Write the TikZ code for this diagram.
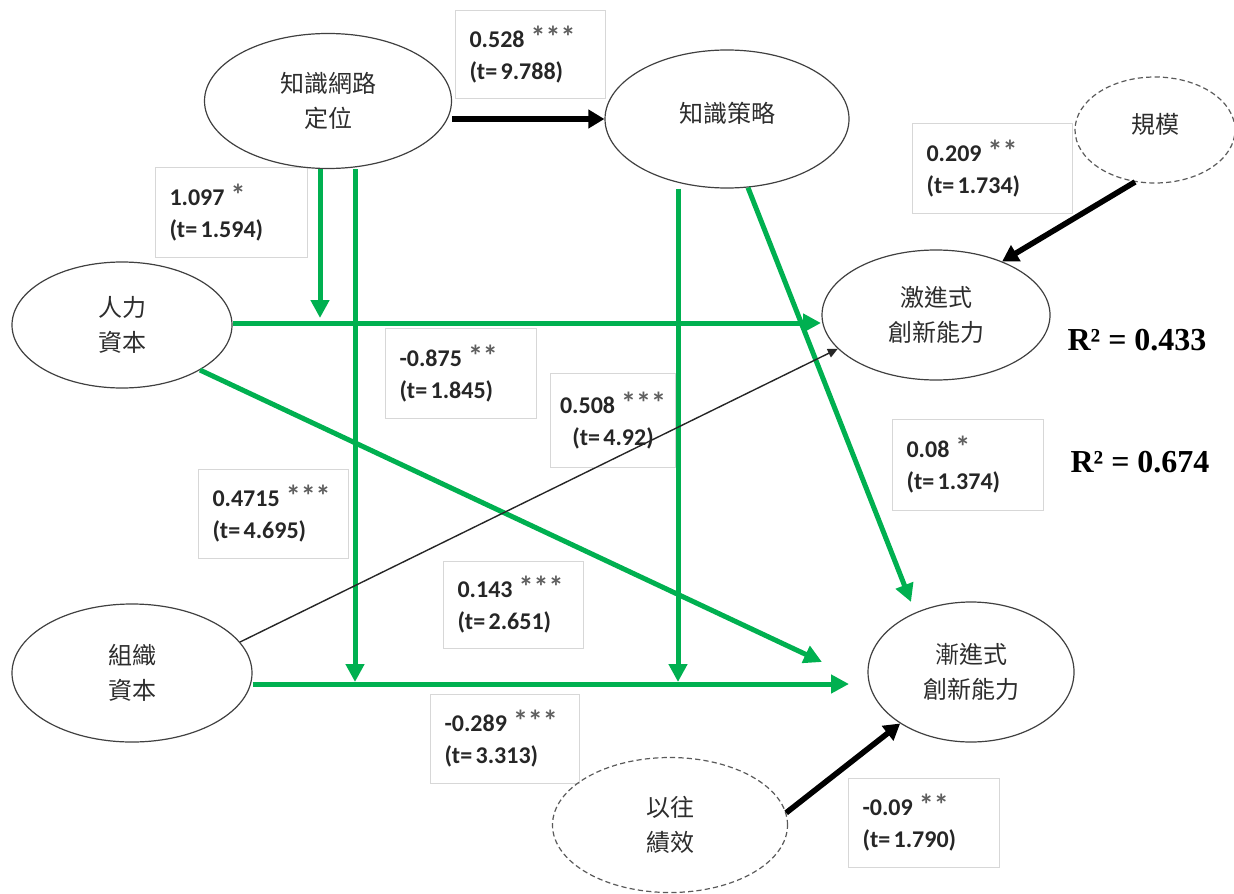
\documentclass[tikz,border=0pt]{standalone}
\usepackage{fontspec}
\setmainfont{Carlito}
\newfontfamily\cjk{Noto Sans CJK TC}
\newfontfamily\rfont{Liberation Serif}
\usetikzlibrary{shapes.geometric,arrows.meta,calc}
\definecolor{pgreen}{RGB}{0,176,80}
\definecolor{edgec}{RGB}{64,64,64}
\definecolor{dashc}{RGB}{90,90,90}
\definecolor{boxc}{RGB}{215,215,215}
\definecolor{txtc}{RGB}{38,38,38}
\definecolor{cjkc}{RGB}{45,45,45}
\definecolor{astc}{RGB}{95,95,95}
\newcommand\sigmark[1]{\hspace{-0.08em}\textcolor{astc}{\fontsize{15}{16}\selectfont #1}}
\newcommand\tval[1]{(t=\hspace{0.14em}#1)}
\begin{document}
\begin{tikzpicture}[x=0.5pt,y=-0.5pt,
  latent/.style={ellipse, draw=edgec, line width=0.6pt, inner sep=0pt, align=center,
    font=\cjk\fontsize{12}{17.5}\selectfont, text=cjkc},
  ctrl/.style={latent, draw=dashc, dash pattern=on 2.6pt off 1.6pt},
  lbl/.style={draw=boxc, line width=0.5pt, anchor=north west, inner xsep=7pt, inner ysep=0pt,
    align=left, font=\bfseries\fontsize{12}{16}\selectfont, text=txtc},
  garrow/.style={draw=pgreen, line width=2.5pt, -{Triangle[length=9pt,width=9pt]}},
  barrow/.style={draw=black, line width=2.8pt, -{Triangle[length=8pt,width=9pt]}},
  tarrow/.style={draw=black!85, line width=0.7pt, -{Triangle[length=5pt,width=4.5pt]}},
  rsq/.style={font=\rfont\bfseries\fontsize{16}{19}\selectfont, text=black}
]
\useasboundingbox (0,0) rectangle (1234,893);

% label boxes
\node[lbl, text width=61pt, minimum height=44pt] (b1) at (455,10) {0.528 \sigmark{***}\\\tval{9.788}};
\node[lbl, text width=62pt, minimum height=45pt] (b2) at (155,167) {1.097 \sigmark{*}\\\tval{1.594}};
\node[lbl, text width=66pt, minimum height=45pt] (b3) at (912,123) {0.209 \sigmark{**}\\\tval{1.734}};
\node[lbl, text width=61.5pt, minimum height=45pt] (b4) at (385,328) {-0.875 \sigmark{**}\\\tval{1.845}};
\node[lbl, text width=58.5pt, inner xsep=2pt, align=center, minimum height=47pt] (b5) at (550,373) {0.508 \sigmark{***}\\\tval{4.92}};
\node[lbl, text width=61.5pt, minimum height=45.5pt] (b6) at (892,419) {0.08 \sigmark{*}\\\tval{1.374}};
\node[lbl, text width=61pt, minimum height=44.5pt] (b7) at (198,469) {0.4715 \sigmark{***}\\\tval{4.695}};
\node[lbl, text width=56pt, minimum height=43.5pt] (b8) at (443,561) {0.143 \sigmark{***}\\\tval{2.651}};
\node[lbl, text width=60.5pt, minimum height=44.5pt] (b9) at (430,694) {-0.289 \sigmark{***}\\\tval{3.313}};
\node[lbl, text width=61.5pt, minimum height=44.5pt] (b10) at (848,778) {-0.09 \sigmark{**}\\\tval{1.790}};

% R squared
\node[rsq] (r1) at (1137,340) {R² = 0.433};
\node[rsq] (r2) at (1140,462) {R² = 0.674};

% constructs
\node[latent, minimum width=123.5pt, minimum height=67.5pt] (A) at (328,101) {知識網路\\定位};
\node[latent, minimum width=122pt, minimum height=69pt, text depth=7pt] (B) at (727,119) {知識策略};
\node[ctrl, minimum width=80pt, minimum height=53pt, text depth=7pt] (S) at (1155,130) {規模};
\node[latent, minimum width=114pt, minimum height=65pt] (C) at (936,315) {激進式\\創新能力};
\node[latent, minimum width=110pt, minimum height=63pt] (D) at (122,325) {人力\\資本};
\node[latent, minimum width=120pt, minimum height=69pt] (E) at (132,673) {組織\\資本};
\node[latent, minimum width=103pt, minimum height=70pt] (F) at (971,672) {漸進式\\創新能力};
\node[ctrl, minimum width=117.5pt, minimum height=67.5pt] (P) at (670,825) {以往\\績效};

% named free ends
\coordinate (m1) at (320,318);
\coordinate (m2) at (355,682);
\coordinate (m3) at (678,682);
\coordinate (hC) at (821,323);
\coordinate (hF) at (849,684);
\coordinate (dF) at (822,662);
\coordinate (bF) at (911,602);

% green paths
\draw[garrow] (D.east |- hC) -- (hC);
\draw[garrow] (E.east |- hF) -- (hF);
\draw[garrow] (A.south -| m1) -- (m1);
\draw[garrow] (A.south -| m2) -- (m2);
\draw[garrow] (B.south -| m3) -- (m3);
\draw[garrow] (D.-30) -- (dF);
\draw[garrow] (B.287) -- (bF);

% black paths
\draw[barrow] (A.east |- B.west) -- (B.west);
\draw[barrow] (S.249) -- (C.39);
\draw[barrow] (P.6) -- (F.216);
\draw[tarrow] (E.16) -- (C.199);
\end{tikzpicture}
\end{document}
